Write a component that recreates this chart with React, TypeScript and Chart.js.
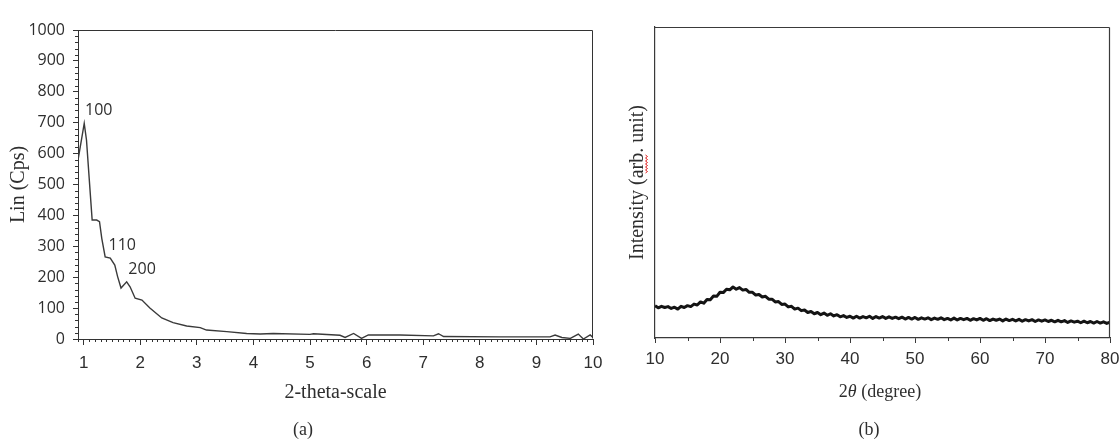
import React, { useEffect, useRef } from "react";
import { Chart, registerables } from "chart.js";
Chart.register(...registerables);

// ---------- Panel (a): small-angle scan ----------
const scanX = [0.9, 0.94, 1.01, 1.05, 1.1, 1.15, 1.23, 1.28, 1.32, 1.38, 1.47, 1.55, 1.6, 1.66, 1.76, 1.82, 1.91, 2.03, 2.17, 2.38, 2.58, 2.82, 3.06, 3.17, 3.53, 3.88, 4.12, 4.35, 5.0, 5.06, 5.53, 5.62, 5.77, 5.91, 6.03, 6.59, 7.18, 7.27, 7.36, 8.36, 9.24, 9.33, 9.45, 9.6, 9.74, 9.83, 9.95, 10.0];
const scanY = [579, 622, 698, 644, 514, 385, 385, 380, 326, 266, 262, 239, 202, 165, 185, 169, 132, 126, 100, 68, 53, 42, 37, 29, 24, 18, 16, 18, 15, 17, 12, 5, 18, 2, 13, 13, 10, 17, 8, 7, 7, 13, 5, 2, 16, 0, 13, 5];
const aXTicks = [1, 2, 3, 4, 5, 6, 7, 8, 9, 10];
const aXTickLabels = ["1", "2", "3", "4", "5", "6", "7", "8", "9", "10"];
const aYTicks = [0, 100, 200, 300, 400, 500, 600, 700, 800, 900, 1000];
const aYTickLabels = ["0", "100", "200", "300", "400", "500", "600", "700", "800", "900", "1000"];
const aXMinorStep = 0.1;
const aYMinorStep = 20;
const peakNames = ["100", "110", "200"];
const peakLabelX = [1.025, 1.44, 1.79];
const peakLabelY = [741, 304, 226];

// ---------- Panel (b): wide-angle XRD (2θ from 10° to 80°, every 0.5°) ----------
const xrdStart = 10;
const xrdStep = 0.5;
const xrdIntensity = [
  10.4, 9.7, 10.2, 9.8, 10.1, 9.5, 9.9, 9.3, 10.2, 9.8,
  10.4, 10.1, 10.9, 10.6, 11.6, 11.2, 12.4, 12.3, 13.5, 13.4,
  14.7, 14.6, 15.7, 15.5, 16.4, 15.7, 16.2, 15.4, 15.6, 14.7,
  14.7, 13.8, 14.0, 13.2, 13.4, 12.5, 12.5, 11.6, 11.7, 10.8,
  10.9, 10.0, 10.2, 9.3, 9.6, 8.8, 9.0, 8.2, 8.5, 7.8,
  8.2, 7.5, 8.0, 7.3, 7.8, 7.1, 7.5, 6.8, 7.2, 6.6,
  7.0, 6.4, 7.0, 6.4, 6.9, 6.5, 7.0, 6.3, 6.9, 6.4,
  6.9, 6.3, 6.8, 6.3, 6.7, 6.2, 6.7, 6.1, 6.6, 6.1,
  6.6, 6.0, 6.5, 6.1, 6.5, 5.9, 6.4, 6.0, 6.5, 5.9,
  6.3, 5.8, 6.4, 5.8, 6.3, 5.9, 6.3, 5.7, 6.2, 5.8,
  6.3, 5.7, 6.2, 5.6, 6.1, 5.7, 6.1, 5.5, 6.1, 5.6,
  6.0, 5.5, 6.0, 5.4, 5.9, 5.5, 5.9, 5.3, 5.8, 5.4,
  5.8, 5.3, 5.7, 5.2, 5.7, 5.2, 5.6, 5.0, 5.5, 5.1,
  5.4, 4.9, 5.4, 4.9, 5.3, 4.8, 5.3, 4.8, 5.2, 4.7,
  5.1,
];
const bXTicks = [10, 20, 30, 40, 50, 60, 70, 80];
const bXTickLabels = ["10", "20", "30", "40", "50", "60", "70", "80"];
const bXMinorTicks = [15, 25, 35, 45, 55, 65, 75];

const SERIF = "'Liberation Serif', 'Times New Roman', serif";
const SANS = "'Open Sans', 'Noto Sans', sans-serif";
const NARROW = "'Liberation Sans Narrow', 'Liberation Sans', sans-serif";
const INK = "#2e2e2e";

function frameLine(ctx: CanvasRenderingContext2D, x1: number, y1: number, x2: number, y2: number) {
  ctx.beginPath();
  ctx.moveTo(x1, y1);
  ctx.lineTo(x2, y2);
  ctx.stroke();
}

const panelAPlugin = {
  id: "panelA",
  afterDraw(chart: any) {
    const { ctx, chartArea } = chart;
    const { left, top, right, bottom } = chartArea;
    const xs = chart.scales.x;
    const ys = chart.scales.y;
    ctx.save();
    ctx.strokeStyle = "#333";
    ctx.lineWidth = 1;
    const L = Math.round(left) + 0.5, T = Math.round(top) + 0.5, R = Math.round(right) - 0.5, B = Math.round(bottom) - 0.5;
    frameLine(ctx, L, T, R, T);
    frameLine(ctx, R, T, R, B);
    for (let k = Math.ceil(xs.min / aXMinorStep); k * aXMinorStep <= xs.max + 1e-9; k++) {
      if (k % 10 === 0) continue;
      const px = Math.round(xs.getPixelForValue(k * aXMinorStep)) + 0.5;
      frameLine(ctx, px, bottom, px, bottom + 3);
    }
    for (let v = 0; v <= 1000; v += aYMinorStep) {
      if (v % 100 === 0) continue;
      const py = Math.round(ys.getPixelForValue(v)) + 0.5;
      frameLine(ctx, left - 3, py, left, py);
    }
    ctx.fillStyle = INK;
    ctx.font = `16px ${SANS}`;
    ctx.textAlign = "left";
    ctx.textBaseline = "middle";
    peakNames.forEach((t, i) => {
      ctx.fillText(t, xs.getPixelForValue(peakLabelX[i]), ys.getPixelForValue(peakLabelY[i]));
    });
    ctx.font = `18px ${SERIF}`;
    ctx.textAlign = "center";
    ctx.fillText("(a)", 303, 430);
    ctx.restore();
  },
};

const panelBPlugin = {
  id: "panelB",
  afterDraw(chart: any) {
    const { ctx, chartArea } = chart;
    const { left, top, right, bottom } = chartArea;
    const xs = chart.scales.x;
    ctx.save();
    ctx.strokeStyle = "#3a3a3a";
    ctx.lineWidth = 1.2;
    const L = Math.round(left) + 0.5, T = Math.round(top) + 0.5, R = Math.round(right) - 0.5, B = Math.round(bottom) - 0.5;
    frameLine(ctx, L - 1, T, R, T);
    frameLine(ctx, R, T, R, B);
    ctx.lineWidth = 1;
    bXMinorTicks.forEach((v) => {
      const px = Math.round(xs.getPixelForValue(v)) + 0.5;
      frameLine(ctx, px, bottom, px, bottom + 3);
    });
    // spell-check squiggle under "arb."
    ctx.strokeStyle = "#e02020";
    ctx.lineWidth = 1;
    ctx.beginPath();
    for (let i = 0; i <= 12; i++) {
      const y = 155 + i * 1.5;
      const x = 46.5 + (i % 2 === 0 ? -1 : 1);
      if (i === 0) ctx.moveTo(x, y);
      else ctx.lineTo(x, y);
    }
    ctx.stroke();
    // x title with italic theta
    ctx.fillStyle = INK;
    ctx.textBaseline = "middle";
    ctx.textAlign = "left";
    const normal = `18px ${SERIF}`;
    const italic = `italic 18px ${SERIF}`;
    ctx.font = normal;
    const w1 = ctx.measureText("2").width;
    const w3 = ctx.measureText(" (degree)").width;
    ctx.font = italic;
    const w2 = ctx.measureText("θ").width;
    const cx = 280;
    let x = cx - (w1 + w2 + w3) / 2;
    ctx.font = normal;
    ctx.fillText("2", x, 392);
    x += w1;
    ctx.font = italic;
    ctx.fillText("θ", x, 392);
    x += w2;
    ctx.font = normal;
    ctx.fillText(" (degree)", x, 392);
    ctx.textAlign = "center";
    ctx.fillText("(b)", 269, 430);
    ctx.restore();
  },
};

function PanelA() {
  const ref = useRef<HTMLCanvasElement>(null);
  useEffect(() => {
    const chart = new Chart(ref.current as HTMLCanvasElement, {
      type: "line",
      data: {
        datasets: [
          {
            data: scanX.map((x, i) => ({ x, y: scanY[i] })),
            borderColor: "#3a3a3a",
            borderWidth: 1.4,
            pointRadius: 0,
            tension: 0,
          },
        ],
      },
      options: {
        animation: false,
        responsive: false,
        devicePixelRatio: 1,
        layout: { padding: { top: 30, right: 37, left: 0, bottom: 0 } },
        plugins: { legend: { display: false }, tooltip: { enabled: false } },
        scales: {
          x: {
            type: "linear",
            min: 0.9,
            max: 10,
            afterBuildTicks: (s: any) => {
              s.ticks = aXTicks.map((v) => ({ value: v }));
            },
            afterFit: (s: any) => {
              s.height = 101;
              s.paddingLeft = 0;
              s.paddingRight = 0;
            },
            ticks: {
              callback: (v: any) => aXTickLabels[aXTicks.indexOf(Number(v))] ?? "",
              font: { family: NARROW, size: 17 },
              color: INK,
              padding: 8,
              maxRotation: 0,
              autoSkip: false,
            },
            grid: { drawOnChartArea: false, tickLength: 6, color: "#333" },
            border: { display: true, color: "#333", width: 1 },
            title: {
              display: true,
              text: "2-theta-scale",
              font: { family: SERIF, size: 20 },
              color: INK,
              padding: { bottom: 35, top: 0 },
            },
          },
          y: {
            type: "linear",
            min: 0,
            max: 1000,
            afterBuildTicks: (s: any) => {
              s.ticks = aYTicks.map((v) => ({ value: v }));
            },
            afterFit: (s: any) => {
              s.width = 78;
              s.paddingTop = 0;
              s.paddingBottom = 0;
            },
            ticks: {
              callback: (v: any) => aYTickLabels[aYTicks.indexOf(Number(v))] ?? "",
              font: { family: SANS, size: 16 },
              color: INK,
              padding: 8,
              autoSkip: false,
            },
            grid: { drawOnChartArea: false, tickLength: 5, color: "#333" },
            border: { display: true, color: "#333", width: 1 },
            title: {
              display: true,
              text: "Lin (Cps)",
              font: { family: SERIF, size: 20 },
              color: INK,
              padding: { top: 7, bottom: 0 },
            },
          },
        },
      },
      plugins: [panelAPlugin],
    } as any);
    return () => chart.destroy();
  }, []);
  return (
    <canvas
      ref={ref}
      width={630}
      height={440}
      style={{ position: "absolute", left: 0, top: 0, width: 630, height: 440 }}
    />
  );
}

function PanelB() {
  const ref = useRef<HTMLCanvasElement>(null);
  useEffect(() => {
    const chart = new Chart(ref.current as HTMLCanvasElement, {
      type: "line",
      data: {
        datasets: [
          {
            data: xrdIntensity.map((y, i) => ({ x: xrdStart + i * xrdStep, y })),
            borderColor: "#141414",
            borderWidth: 3,
            borderJoinStyle: "round",
            pointRadius: 0,
            tension: 0,
          },
        ],
      },
      options: {
        animation: false,
        responsive: false,
        devicePixelRatio: 1,
        layout: { padding: { top: 27, right: 9, left: 0, bottom: 0 } },
        plugins: { legend: { display: false }, tooltip: { enabled: false } },
        scales: {
          x: {
            type: "linear",
            min: 10,
            max: 80,
            afterBuildTicks: (s: any) => {
              s.ticks = bXTicks.map((v) => ({ value: v }));
            },
            afterFit: (s: any) => {
              s.height = 102;
              s.paddingLeft = 0;
              s.paddingRight = 0;
            },
            ticks: {
              callback: (v: any) => bXTickLabels[bXTicks.indexOf(Number(v))] ?? "",
              font: { family: NARROW, size: 17 },
              color: INK,
              padding: 6,
              maxRotation: 0,
              autoSkip: false,
            },
            grid: { drawOnChartArea: false, tickLength: 5, color: "#3a3a3a" },
            border: { display: true, color: "#3a3a3a", width: 1.2 },
          },
          y: {
            type: "linear",
            min: 0,
            max: 100,
            afterFit: (s: any) => {
              s.width = 55;
              s.paddingTop = 0;
              s.paddingBottom = 0;
            },
            ticks: { display: false },
            grid: { drawOnChartArea: false, drawTicks: false },
            border: { display: true, color: "#3a3a3a", width: 1.2 },
            title: {
              display: true,
              text: "Intensity (arb. unit)",
              font: { family: SERIF, size: 20 },
              color: INK,
              padding: { top: 26, bottom: 0 },
            },
          },
        },
      },
      plugins: [panelBPlugin],
    } as any);
    return () => chart.destroy();
  }, []);
  return (
    <canvas
      ref={ref}
      width={519}
      height={440}
      style={{ position: "absolute", left: 600, top: 0, width: 519, height: 440 }}
    />
  );
}

export default function App() {
  return (
    <div style={{ position: "absolute", left: 0, top: 0, width: 1119, height: 440, background: "#fff" }}>
      <PanelA />
      <PanelB />
    </div>
  );
}
